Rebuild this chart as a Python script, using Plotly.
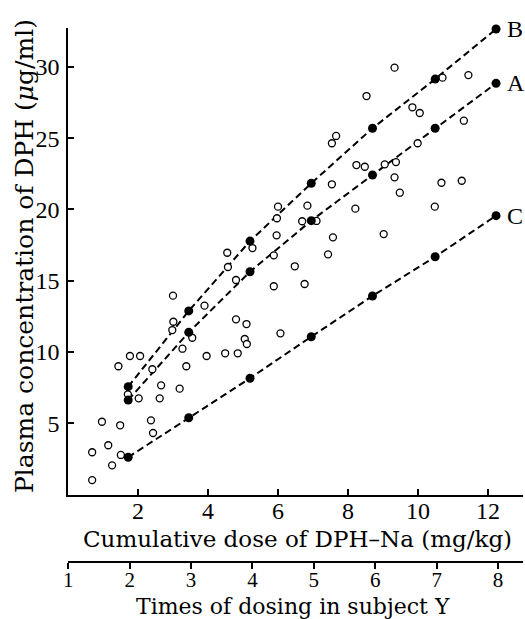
import plotly.graph_objects as go

# ---- data ----
dose = [1.72, 3.45, 5.20, 6.95, 8.70, 10.49, 12.23]
curve_B = [7.57, 12.88, 17.78, 21.83, 25.69, 29.14, 32.65]
curve_A = [6.63, 11.38, 15.63, 19.21, 22.41, 25.69, 28.84]
curve_C = [2.62, 5.39, 8.16, 11.07, 13.93, 16.68, 19.56]
curve_names = ["B", "A", "C"]

obs_dose = [0.69, 0.69, 0.97, 1.15, 1.26, 1.49, 1.51, 1.44, 1.77, 2.06,
            1.71, 2.02, 2.41, 2.37, 2.43, 2.66, 2.62, 3.19, 3.38, 3.27,
            3.96, 3.55, 3.01, 2.98, 3.90, 4.49, 4.85, 4.80, 5.10, 5.05,
            5.11, 3.00, 4.55, 4.57, 4.80, 5.27, 6.07, 6.00, 5.97, 5.96,
            5.88, 5.88, 6.48, 6.76, 6.84, 6.69, 7.10, 7.54, 7.57, 7.43,
            8.21, 8.53, 7.54, 7.66, 8.24, 8.48, 9.33, 10.70, 11.44, 9.84,
            10.05, 11.31, 9.99, 9.05, 9.37, 9.33, 9.48, 10.67, 11.25, 10.48,
            9.02]
obs_conc = [1.02, 2.97, 5.11, 3.46, 2.05, 4.86, 2.78, 9.00, 9.72, 9.72,
            7.03, 6.75, 8.79, 5.21, 4.32, 7.66, 6.75, 7.43, 9.00, 10.23,
            9.72, 11.00, 12.12, 11.54, 13.25, 9.91, 9.91, 12.29, 11.96, 10.91,
            10.56, 13.95, 16.96, 15.96, 15.05, 17.29, 11.31, 20.19, 19.38, 18.18,
            16.78, 14.61, 16.01, 14.77, 20.26, 19.17, 19.19, 21.76, 18.04, 16.85,
            20.05, 27.95, 24.64, 25.15, 23.11, 22.99, 29.94, 29.24, 29.42, 27.16,
            26.76, 26.22, 24.64, 23.16, 23.32, 22.25, 21.17, 21.87, 22.01, 20.19,
            18.27]

y_ticks = [5, 10, 15, 20, 25, 30]
x_ticks = [2, 4, 6, 8, 10, 12]
times_ticks = [1, 2, 3, 4, 5, 6, 7, 8]

x_title = "Cumulative dose of DPH–Na (mg/kg)"
times_title = "Times of dosing in subject Y"
y_title = "Plasma concentration of DPH (<i>μ</i>g/ml)"

SERIF = "Liberation Serif"
SERIF2 = "DejaVu Serif"

W, H = 525, 619
ml, mr, mt, mb = 68, 2, 28, 57
pw = W - ml - mr
ph = H - mt - mb


def px2paper_x(p):
    return (p - ml) / pw


def px2paper_y(p):
    return (H - mb - p) / ph


fig = go.Figure()

curves = [curve_B, curve_A, curve_C]
for vals in curves:
    fig.add_trace(go.Scatter(x=dose, y=vals, mode="lines",
                             line=dict(color="black", width=2, dash="7px,4px"),
                             cliponaxis=False, showlegend=False, hoverinfo="skip"))

fig.add_trace(go.Scatter(x=obs_dose, y=obs_conc, mode="markers",
                         marker=dict(symbol="circle", size=7, color="white",
                                     line=dict(color="black", width=1.3)),
                         cliponaxis=False, showlegend=False))

for vals in curves:
    fig.add_trace(go.Scatter(x=dose, y=vals, mode="markers",
                             marker=dict(symbol="circle", size=9, color="black"),
                             cliponaxis=False, showlegend=False))

# empty trace so that the secondary (times) axis is drawn
fig.add_trace(go.Scatter(x=[], y=[], xaxis="x2", yaxis="y", showlegend=False,
                         hoverinfo="skip"))

for name, vals in zip(curve_names, curves):
    fig.add_annotation(x=12.48, y=vals[-1], xref="x", yref="y", text=name,
                       showarrow=False, xanchor="left", yanchor="middle",
                       font=dict(family=SERIF, size=24, color="black"))

fig.add_annotation(x=px2paper_x(297), y=px2paper_y(539), xref="paper", yref="paper",
                   text=x_title, showarrow=False, xanchor="center", yanchor="middle",
                   font=dict(family=SERIF2, size=23, color="black"))
fig.add_annotation(x=px2paper_x(293), y=px2paper_y(606.5), xref="paper", yref="paper",
                   text=times_title, showarrow=False, xanchor="center", yanchor="middle",
                   font=dict(family=SERIF2, size=22, color="black"))
fig.add_annotation(x=px2paper_x(24), y=px2paper_y(256), xref="paper", yref="paper",
                   text=y_title, showarrow=False, xanchor="center", yanchor="middle",
                   textangle=-90,
                   font=dict(family=SERIF2, size=25, color="black"))

y_top = (494.6 - mt) / 14.26

fig.update_layout(
    width=W, height=H,
    margin=dict(l=ml, r=mr, t=mt, b=mb),
    paper_bgcolor="white", plot_bgcolor="white",
    showlegend=False,
    xaxis=dict(domain=[0, 1], range=[0, 13.0], tickvals=x_ticks,
               showline=True, linecolor="black", linewidth=1.5,
               ticks="inside", ticklen=6, tickwidth=1.5, tickcolor="black",
               showgrid=False, zeroline=False, ticklabelstandoff=-7,
               tickfont=dict(family=SERIF, size=24, color="black"),
               anchor="y"),
    yaxis=dict(domain=[px2paper_y(495), 1], range=[-0.028, y_top], tickvals=y_ticks,
               showline=True, linecolor="black", linewidth=1.5,
               ticks="inside", ticklen=6, tickwidth=1.5, tickcolor="black",
               showgrid=False, zeroline=False, ticklabelstandoff=2,
               tickfont=dict(family=SERIF, size=24, color="black"),
               anchor="x"),
    xaxis2=dict(overlaying="x", range=[0.995, 1 + 455 / 61.43], tickvals=times_ticks,
                anchor="free", position=0, side="bottom",
                showline=True, linecolor="black", linewidth=1.5,
                ticks="outside", ticklen=6, tickwidth=1.5, tickcolor="black",
                showgrid=False, zeroline=False, ticklabelstandoff=-7,
                tickfont=dict(family=SERIF, size=21, color="black")),
)

fig.write_html("out.html", config={"displayModeBar": False},
               post_script="document.body.style.margin='0';")
